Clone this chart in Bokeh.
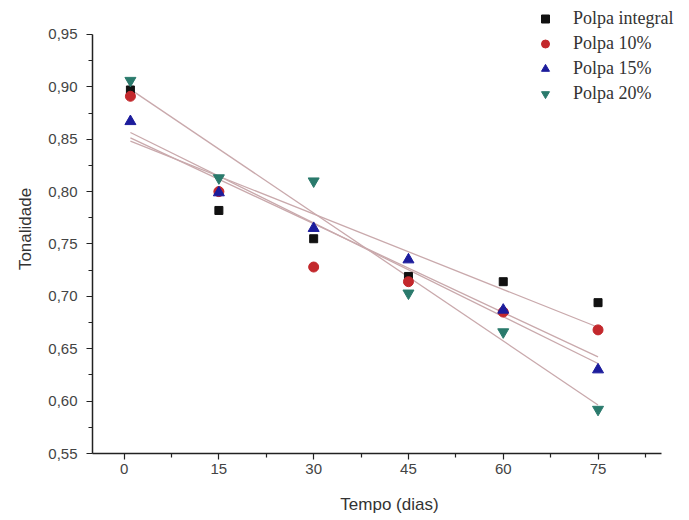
import numpy as np
from bokeh.plotting import figure
from bokeh.models import Range1d, Legend, LegendItem, FixedTicker
from bokeh.embed import file_html
from bokeh.resources import INLINE

dias = [1, 15, 30, 45, 60, 75]
polpa_integral = [0.897, 0.782, 0.755, 0.719, 0.714, 0.694]
polpa_10 = [0.891, 0.800, 0.728, 0.714, 0.685, 0.668]
polpa_15 = [0.867, 0.799, 0.765, 0.735, 0.687, 0.630]
polpa_20 = [0.906, 0.813, 0.810, 0.703, 0.666, 0.592]

series_names = ["Polpa integral", "Polpa 10%", "Polpa 15%", "Polpa 20%"]
x_ticks = [0, 15, 30, 45, 60, 75]
x_tick_labels = ["0", "15", "30", "45", "60", "75"]
y_ticks = [0.55, 0.60, 0.65, 0.70, 0.75, 0.80, 0.85, 0.90, 0.95]
y_tick_labels = ["0,55", "0,60", "0,65", "0,70", "0,75", "0,80", "0,85", "0,90", "0,95"]

p = figure(width=688, height=516, output_backend="svg", toolbar_location=None,
           x_range=Range1d(-5, 89), y_range=Range1d(0.55, 0.9786),
           frame_width=594, frame_height=449,
           min_border_left=92, min_border_right=2, min_border_top=4, min_border_bottom=63)
p.outline_line_color = None
p.xgrid.visible = False
p.ygrid.visible = False

for ax in (p.xaxis[0], p.yaxis[0]):
    ax.axis_line_color = "#222222"
    ax.axis_line_width = 1.5
    ax.major_tick_line_color = "#222222"
    ax.minor_tick_line_color = "#222222"
    ax.major_tick_line_width = 1.2
    ax.minor_tick_line_width = 1.2
    ax.major_tick_out = 6
    ax.major_tick_in = 0
    ax.minor_tick_out = 4
    ax.minor_tick_in = 0
    ax.major_label_text_font = "Liberation Sans"
    ax.major_label_text_font_size = "15px"
    ax.major_label_text_color = "#444444"
    ax.axis_label_text_font = "Liberation Sans"
    ax.axis_label_text_font_size = "17px"
    ax.axis_label_text_font_style = "normal"
    ax.axis_label_text_color = "#333333"

p.xaxis.bounds = (-5, 85)
p.yaxis.bounds = (0.55, 0.95)
p.xaxis.ticker = FixedTicker(ticks=x_ticks,
                             minor_ticks=[x + 7.5 for x in [-15] + x_ticks])
p.xaxis.major_label_overrides = dict(zip(x_ticks, x_tick_labels))
p.yaxis.ticker = FixedTicker(ticks=y_ticks,
                             minor_ticks=[round(y + 0.025, 3) for y in y_ticks[:-1]])
p.yaxis.major_label_overrides = dict(zip(y_ticks, y_tick_labels))
p.xaxis.axis_label = "Tempo (dias)"
p.yaxis.axis_label = "Tonalidade"
p.xaxis.major_label_standoff = 4
p.xaxis.axis_label_standoff = 18
p.yaxis.major_label_standoff = 9
p.yaxis.axis_label_standoff = 10

# regression lines
x_arr = np.array(dias, dtype=float)
for ys in (polpa_integral, polpa_10, polpa_15, polpa_20):
    m, b = np.polyfit(x_arr, np.array(ys), 1)
    xe = np.array([dias[0], dias[-1]], dtype=float)
    p.line(xe, m * xe + b, line_color="#c9a9ac", line_width=1.3)

r1 = p.scatter(dias, polpa_integral, marker="square", size=8, color="#111111")
r2 = p.scatter(dias, polpa_10, marker="circle", size=10, color="#c3282c")
r3 = p.scatter(dias, polpa_15, marker="triangle", size=11, color="#1c1c9c")
r4 = p.scatter(dias, polpa_20, marker="inverted_triangle", size=11, color="#2a7a6c")

legend = Legend(items=[LegendItem(label=n, renderers=[r]) for n, r in
                       zip(series_names, [r1, r2, r3, r4])],
                location=(443, 347), orientation="vertical")
legend.border_line_color = None
legend.background_fill_alpha = 0
legend.padding = 0
legend.margin = 0
legend.spacing = 0
legend.glyph_width = 20
legend.glyph_height = 25
legend.label_height = 25
legend.label_standoff = 18
legend.label_text_font = "Liberation Serif"
legend.label_text_font_size = "18px"
legend.label_text_color = "#333333"
p.add_layout(legend, "center")

open("out.html", "w").write(file_html(p, INLINE))
